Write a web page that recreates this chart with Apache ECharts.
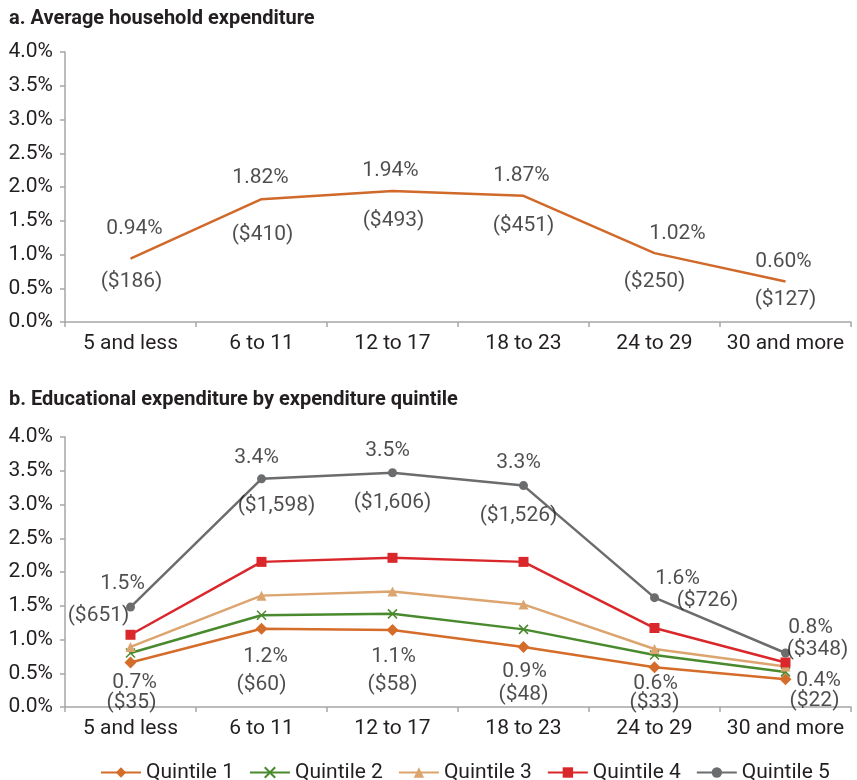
<!DOCTYPE html>
<html>
<head>
<meta charset="utf-8">
<title>Household and educational expenditure by age</title>
<script src="https://cdn.jsdelivr.net/npm/echarts@6/dist/echarts.min.js"></script>
<style>
html, body { margin: 0; padding: 0; background: #fff; }
#chart { width: 857px; height: 780px; }
</style>
</head>
<body>
<div id="chart"></div>
<script>
// categories
var ageGroups = ['5 and less', '6 to 11', '12 to 17', '18 to 23', '24 to 29', '30 and more'];

// panel a
var avgShare = [0.94, 1.82, 1.94, 1.87, 1.02, 0.60];
var avgShareText = ['0.94%', '1.82%', '1.94%', '1.87%', '1.02%', '0.60%'];
var avgDollarText = ['($186)', '($410)', '($493)', '($451)', '($250)', '($127)'];

// panel b
var quintile1 = [0.66, 1.16, 1.14, 0.89, 0.59, 0.41];
var quintile2 = [0.80, 1.36, 1.38, 1.15, 0.77, 0.52];
var quintile3 = [0.89, 1.65, 1.71, 1.52, 0.86, 0.60];
var quintile4 = [1.07, 2.15, 2.21, 2.15, 1.17, 0.66];
var quintile5 = [1.48, 3.38, 3.47, 3.28, 1.62, 0.80];
var q1ShareText = ['0.7%', '1.2%', '1.1%', '0.9%', '0.6%', '0.4%'];
var q1DollarText = ['($35)', '($60)', '($58)', '($48)', '($33)', '($22)'];
var q5ShareText = ['1.5%', '3.4%', '3.5%', '3.3%', '1.6%', '0.8%'];
var q5DollarText = ['($651)', '($1,598)', '($1,606)', '($1,526)', '($726)', '($348)'];

// label placement (pixels from the point)
var avgShareOffset = [[4, -30], [-1, -21], [-2, -20], [-2, -20], [23, -19], [-2, -20]];
var avgDollarOffset = [[1, 23], [1, 36], [1, 30], [0, 30], [0, 29], [0, 18]];
var q5ShareOffset = [[-8, -23], [-5, -21], [-5, -22], [-5, -23], [23, -19], [25, -25]];
var q5DollarOffset = [[-32, 9], [15, 27], [0, 30], [-5, 30], [53, 3], [32, -3]];
var q1ShareOffset = [[4, 20], [4, 28], [1, 27], [1, 25], [1, 17], [33, 1]];
var q1DollarOffset = [[1, 40], [0, 56], [0, 55], [0, 48], [0, 36], [29, 21]];

var FONT = "Roboto, 'Liberation Sans', sans-serif";
var FS = 21;
var TEXT = '#231f20';
var AXIS = '#a6a6a6';

function xAxisFor(grid) {
  return {
    type: 'category', gridIndex: grid, data: ageGroups, boundaryGap: true,
    axisLine: { lineStyle: { color: AXIS, width: 1.5 } },
    axisTick: { show: true, length: 5, alignWithLabel: false, lineStyle: { color: AXIS, width: 1.5 } },
    axisLabel: { color: TEXT, fontSize: FS, fontFamily: FONT, margin: 11, interval: 0 },
    splitLine: { show: false }
  };
}
function yAxisFor(grid) {
  return {
    type: 'value', gridIndex: grid, min: 0, max: 4, interval: 0.5,
    axisLine: { show: true, lineStyle: { color: AXIS, width: 1.5 } },
    axisTick: { show: true, length: 5, lineStyle: { color: AXIS, width: 1.5 } },
    axisLabel: { color: TEXT, fontSize: FS, fontFamily: FONT, margin: 12,
      formatter: function (v) { return v.toFixed(1) + '%'; } },
    splitLine: { show: false }
  };
}

function labelSeries(grid, values, texts, offsets) {
  return {
    type: 'scatter', xAxisIndex: grid, yAxisIndex: grid, silent: true, z: 10,
    symbolSize: 1, itemStyle: { color: 'rgba(0,0,0,0)' },
    data: values.map(function (v, i) {
      return { value: [i, v], label: { offset: offsets[i] } };
    }),
    label: {
      show: true, position: 'inside', color: TEXT, fontSize: FS, fontFamily: FONT,
      formatter: function (p) { return texts[p.dataIndex]; }
    }
  };
}

function quintile(name, values, color, symbol, size, extraStyle) {
  return {
    name: name, type: 'line', xAxisIndex: 1, yAxisIndex: 1,
    data: values, symbol: symbol, symbolSize: size,
    lineStyle: { color: color, width: 2.5 },
    itemStyle: Object.assign({ color: color, borderWidth: 0 }, extraStyle || {}),
    z: 3
  };
}

var chart = echarts.init(document.getElementById('chart'));

chart.setOption({
  backgroundColor: '#fff',
  animation: false,
  textStyle: { fontFamily: FONT },
  title: [
    { text: 'a. Average household expenditure', left: 4, top: 4,
      textStyle: { fontSize: 20, fontWeight: 'bold', color: TEXT, fontFamily: FONT } },
    { text: 'b. Educational expenditure by expenditure quintile', left: 4, top: 385,
      textStyle: { fontSize: 20, fontWeight: 'bold', color: TEXT, fontFamily: FONT } }
  ],
  grid: [
    { left: 65, right: 6, top: 52, height: 270 },
    { left: 65, right: 6, top: 437, height: 270 }
  ],
  xAxis: [xAxisFor(0), xAxisFor(1)],
  yAxis: [yAxisFor(0), yAxisFor(1)],
  legend: {
    data: ['Quintile 1', 'Quintile 2', 'Quintile 3', 'Quintile 4', 'Quintile 5'],
    top: 757, left: 95, itemWidth: 40, itemHeight: 13, itemGap: 15,
    textStyle: { color: TEXT, fontSize: FS, fontFamily: FONT }
  },
  series: [
    {
      name: 'Average', type: 'line', xAxisIndex: 0, yAxisIndex: 0,
      data: avgShare, symbol: 'none',
      lineStyle: { color: '#d0692a', width: 2.5 }
    },
    labelSeries(0, avgShare, avgShareText, avgShareOffset),
    labelSeries(0, avgShare, avgDollarText, avgDollarOffset),

    quintile('Quintile 1', quintile1, '#d56d2a', 'diamond', 12),
    quintile('Quintile 2', quintile2, '#4a8a2e', 'path://M0,0L10,10M10,0L0,10', 9,
      { borderColor: '#4a8a2e', borderWidth: 1.5 }),
    quintile('Quintile 3', quintile3, '#dca56f', 'triangle', 10),
    quintile('Quintile 4', quintile4, '#d9272b', 'rect', 10),
    quintile('Quintile 5', quintile5, '#6b6c6e', 'circle', 9),

    labelSeries(1, quintile5, q5ShareText, q5ShareOffset),
    labelSeries(1, quintile5, q5DollarText, q5DollarOffset),
    labelSeries(1, quintile1, q1ShareText, q1ShareOffset),
    labelSeries(1, quintile1, q1DollarText, q1DollarOffset)
  ]
});
</script>
</body>
</html>
